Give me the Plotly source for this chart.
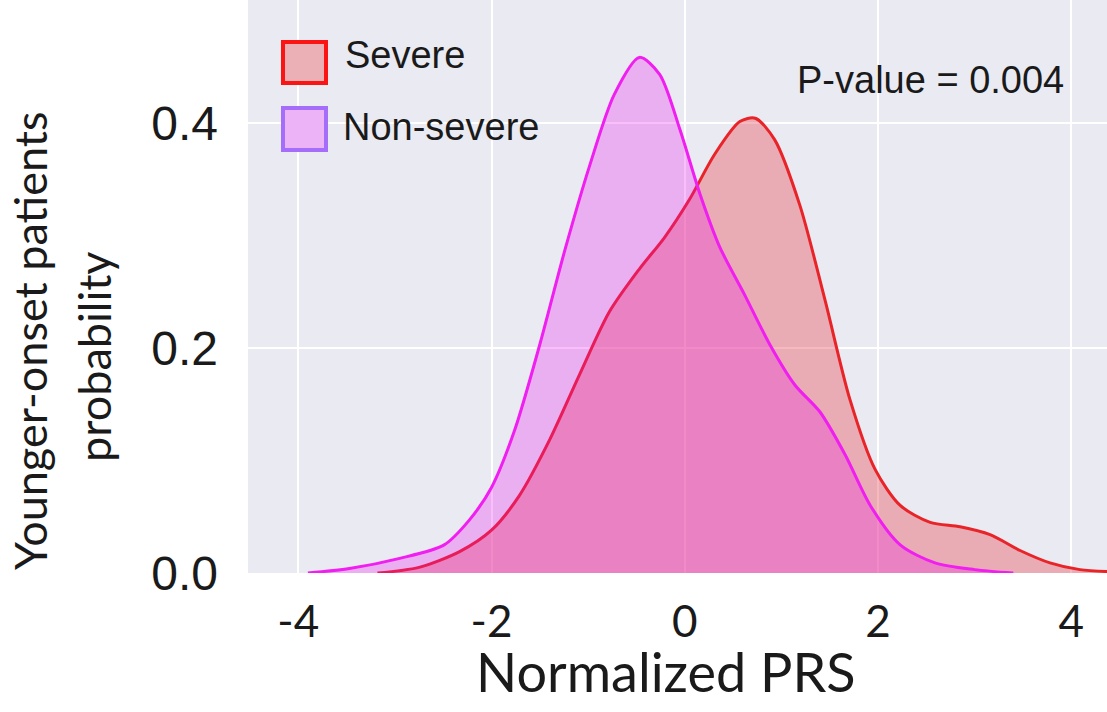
import plotly.graph_objects as go

# ---- data ----
severe_x = [-3.18, -2.75, -2.33, -2.0, -1.71, -1.40, -1.09, -0.78, -0.47, -0.21,
            0.05, 0.31, 0.57, 0.73, 0.93, 1.19, 1.45, 1.71, 1.97, 2.23,
            2.54, 2.85, 3.16, 3.47, 3.78, 4.09, 4.45]
severe_y = [0.0, 0.005, 0.019, 0.038, 0.069, 0.118, 0.176, 0.232, 0.270, 0.298,
            0.332, 0.372, 0.401, 0.404, 0.385, 0.327, 0.243, 0.154, 0.092, 0.060,
            0.045, 0.041, 0.034, 0.020, 0.009, 0.003, 0.001]

nonsevere_x = [-3.9, -3.47, -2.95, -2.49, -2.23, -2.0, -1.76, -1.5, -1.24, -0.98,
               -0.73, -0.47, -0.26, -0.05, 0.16, 0.36, 0.62, 0.88, 1.14, 1.40,
               1.66, 1.92, 2.23, 2.59, 3.0, 3.4]
nonsevere_y = [0.0, 0.004, 0.013, 0.025, 0.047, 0.076, 0.127, 0.203, 0.287, 0.363,
               0.425, 0.458, 0.443, 0.394, 0.336, 0.290, 0.247, 0.203, 0.167, 0.143,
               0.105, 0.060, 0.025, 0.009, 0.003, 0.0]

x_tickvals = [-4, -2, 0, 2, 4]
x_ticktext = ["-4", "-2", "0", "2", "4"]
y_tickvals = [0.0, 0.2, 0.4]
y_ticktext = ["0.0", "0.2", "0.4"]

series_names = ["Severe", "Non-severe"]
p_value_text = "P-value = 0.004"
x_title = "Normalized PRS"
y_title_lines = ["Younger-onset patients", "probability"]

# ---- styles ----
BG = "#eaeaf2"
ARIAL = "Liberation Sans, Arial, sans-serif"
CALIBRI = "Lato, Carlito, Calibri, sans-serif"

fig = go.Figure()
fig.add_trace(go.Scatter(
    x=severe_x, y=severe_y, mode="lines", name=series_names[0],
    line=dict(color="rgb(232,36,40)", width=3, shape="spline", smoothing=0.8),
    fill="tozeroy", fillcolor="rgba(232,80,90,0.40)", showlegend=False,
))
fig.add_trace(go.Scatter(
    x=nonsevere_x, y=nonsevere_y, mode="lines", name=series_names[1],
    line=dict(color="rgb(240,30,240)", width=3, shape="spline", smoothing=0.8),
    fill="tozeroy", fillcolor="rgba(234,0,234,0.25)", showlegend=False,
))

W, H = 1107, 712
L, R, T, B = 248, 0, 0, 139
plot_h = H - T - B
plot_w = W - L - R

def px_x(p):
    return (p - L) / plot_w

def px_y(p):
    return 1 - (p - T) / plot_h

shapes = [
    dict(type="rect", xref="paper", yref="paper",
         x0=px_x(283), x1=px_x(326), y0=px_y(83), y1=px_y(42),
         line=dict(color="rgb(250,20,20)", width=4), fillcolor="rgb(234,176,182)"),
    dict(type="rect", xref="paper", yref="paper",
         x0=px_x(283), x1=px_x(326), y0=px_y(150), y1=px_y(108),
         line=dict(color="rgb(165,110,250)", width=4), fillcolor="rgb(236,180,246)"),
]

annotations = [
    dict(text=series_names[0], xref="paper", yref="paper", x=px_x(343), y=px_y(55),
         xanchor="left", yanchor="middle", showarrow=False,
         font=dict(family=ARIAL, size=38, color="#1a1a1a")),
    dict(text=series_names[1], xref="paper", yref="paper", x=px_x(341), y=px_y(127),
         xanchor="left", yanchor="middle", showarrow=False,
         font=dict(family=ARIAL, size=38, color="#1a1a1a")),
    dict(text=p_value_text, xref="paper", yref="paper", x=px_x(930), y=px_y(80),
         xanchor="center", yanchor="middle", showarrow=False,
         font=dict(family=ARIAL, size=38, color="#1a1a1a")),
    dict(text=x_title, xref="paper", yref="paper", x=px_x(666), y=px_y(671),
         xanchor="center", yanchor="middle", showarrow=False,
         font=dict(family=CALIBRI, size=54, color="#1a1a1a")),
    dict(text=y_title_lines[0], xref="paper", yref="paper", x=px_x(30), y=px_y(341),
         xanchor="center", yanchor="middle", showarrow=False, textangle=-90,
         font=dict(family=CALIBRI, size=45, color="#1a1a1a")),
    dict(text=y_title_lines[1], xref="paper", yref="paper", x=px_x(94), y=px_y(357),
         xanchor="center", yanchor="middle", showarrow=False, textangle=-90,
         font=dict(family=CALIBRI, size=45, color="#1a1a1a")),
]

fig.update_layout(
    width=W, height=H,
    margin=dict(l=L, r=R, t=T, b=B, pad=0, autoexpand=False),
    paper_bgcolor="white", plot_bgcolor=BG,
    showlegend=False,
    shapes=shapes, annotations=annotations,
    xaxis=dict(range=[-4.52, 4.37], tickvals=x_tickvals, ticktext=x_ticktext,
               showgrid=True, gridcolor="white", gridwidth=2, zeroline=False,
               showline=False, ticks="", ticklabelstandoff=19, automargin=False,
               tickfont=dict(family=CALIBRI, size=44, color="#1a1a1a")),
    yaxis=dict(range=[0, 0.509], tickvals=y_tickvals, ticktext=y_ticktext,
               showgrid=True, gridcolor="white", gridwidth=2, zeroline=False,
               showline=False, ticks="", ticklabelstandoff=29, automargin=False,
               tickfont=dict(family=ARIAL, size=48, color="#1a1a1a")),
)

fig.write_html("out.html", config={"displayModeBar": False},
               post_script="document.body.style.margin='0';")
